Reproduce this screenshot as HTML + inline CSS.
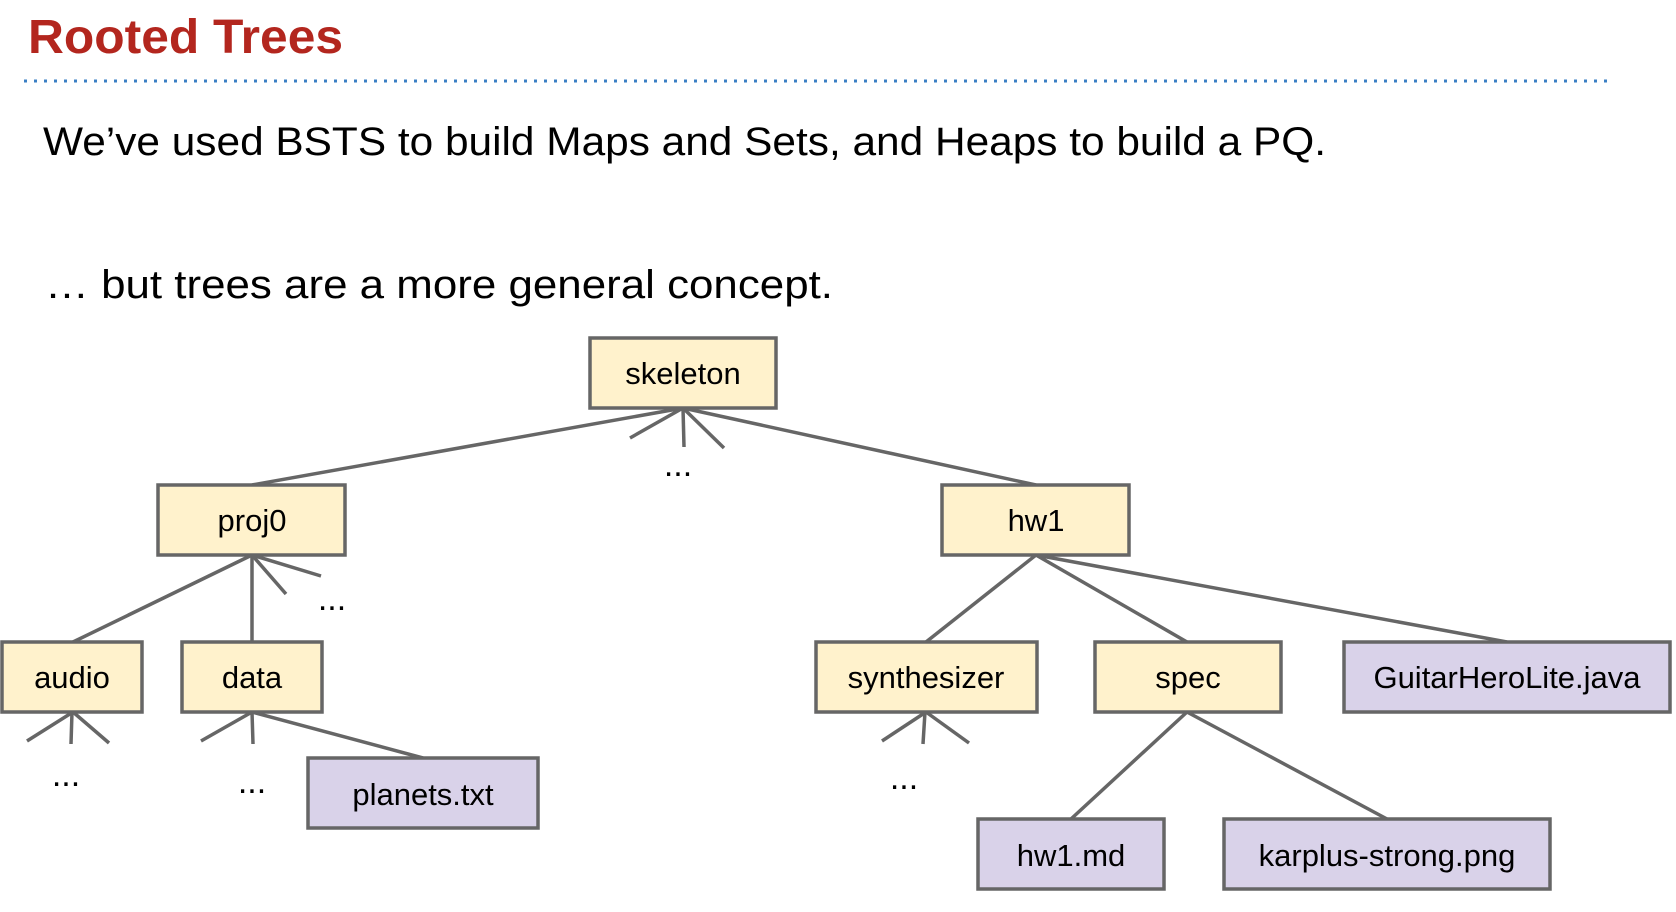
<!DOCTYPE html>
<html><head><meta charset="utf-8"><style>
html,body{margin:0;padding:0;background:#fff;}
svg{display:block;}
</style></head><body>
<svg width="1676" height="912" viewBox="0 0 1676 912" xmlns="http://www.w3.org/2000/svg">
<text x="28" y="53" font-family="Liberation Sans, sans-serif" font-weight="bold" font-size="48" fill="#b3261e" textLength="315" lengthAdjust="spacingAndGlyphs">Rooted Trees</text>
<line x1="24" y1="81" x2="1607" y2="81" stroke="#3a7fc4" stroke-width="3" stroke-dasharray="3,7"/>
<text x="43" y="155" font-family="Liberation Sans, sans-serif" font-size="40" fill="#000" textLength="1283" lengthAdjust="spacingAndGlyphs">We’ve used BSTS to build Maps and Sets, and Heaps to build a PQ.</text>
<text x="45" y="298" font-family="Liberation Sans, sans-serif" font-size="40" fill="#000" textLength="788" lengthAdjust="spacingAndGlyphs">… but trees are a more general concept.</text>
<g stroke="#666" stroke-width="3.5" fill="none" stroke-linecap="butt">
<line x1="683" y1="408" x2="252" y2="485"/>
<line x1="683" y1="408" x2="1036" y2="485"/>
<line x1="683" y1="408" x2="630" y2="438"/>
<line x1="683" y1="408" x2="684" y2="447"/>
<line x1="683" y1="408" x2="724" y2="448"/>
<line x1="252" y1="555" x2="73" y2="642"/>
<line x1="252" y1="555" x2="252" y2="642"/>
<line x1="252" y1="555" x2="286" y2="594"/>
<line x1="252" y1="555" x2="321" y2="576"/>
<line x1="73" y1="712" x2="27" y2="741"/>
<line x1="72" y1="712" x2="71" y2="744"/>
<line x1="73" y1="712" x2="109" y2="743"/>
<line x1="252" y1="712" x2="201" y2="741"/>
<line x1="252" y1="712" x2="253" y2="744"/>
<line x1="252" y1="712" x2="423" y2="758"/>
<line x1="1036" y1="555" x2="926" y2="642"/>
<line x1="1036" y1="555" x2="1187" y2="642"/>
<line x1="1036" y1="555" x2="1507" y2="642"/>
<line x1="926" y1="712" x2="882" y2="741"/>
<line x1="925" y1="712" x2="923" y2="744"/>
<line x1="926" y1="712" x2="969" y2="743"/>
<line x1="1187" y1="712" x2="1071" y2="819"/>
<line x1="1187" y1="712" x2="1387" y2="819"/>
</g>
<g font-family="Liberation Sans, sans-serif" font-size="34" fill="#000" text-anchor="middle">
<text x="678" y="476">...</text>
<text x="332" y="610">...</text>
<text x="66" y="786">...</text>
<text x="252" y="793">...</text>
<text x="904" y="789">...</text>
</g>
<g stroke="#666" stroke-width="3.5">
<rect x="590" y="338" width="186" height="70" fill="#fff2cc"/>
<rect x="158" y="485" width="187" height="70" fill="#fff2cc"/>
<rect x="942" y="485" width="187" height="70" fill="#fff2cc"/>
<rect x="2" y="642" width="140" height="70" fill="#fff2cc"/>
<rect x="182" y="642" width="140" height="70" fill="#fff2cc"/>
<rect x="308" y="758" width="230" height="70" fill="#d9d2e9"/>
<rect x="816" y="642" width="221" height="70" fill="#fff2cc"/>
<rect x="1095" y="642" width="186" height="70" fill="#fff2cc"/>
<rect x="1344" y="642" width="326" height="70" fill="#d9d2e9"/>
<rect x="978" y="819" width="186" height="70" fill="#d9d2e9"/>
<rect x="1224" y="819" width="326" height="70" fill="#d9d2e9"/>
</g>
<g font-family="Liberation Sans, sans-serif" font-size="31" fill="#000" text-anchor="middle">
<text x="683" y="384">skeleton</text>
<text x="252" y="531">proj0</text>
<text x="1036" y="531">hw1</text>
<text x="72" y="688">audio</text>
<text x="252" y="688">data</text>
<text x="423" y="805">planets.txt</text>
<text x="926" y="688">synthesizer</text>
<text x="1188" y="688">spec</text>
<text x="1507" y="688">GuitarHeroLite.java</text>
<text x="1071" y="866">hw1.md</text>
<text x="1387" y="866">karplus-strong.png</text>
</g>
</svg>
</body></html>
